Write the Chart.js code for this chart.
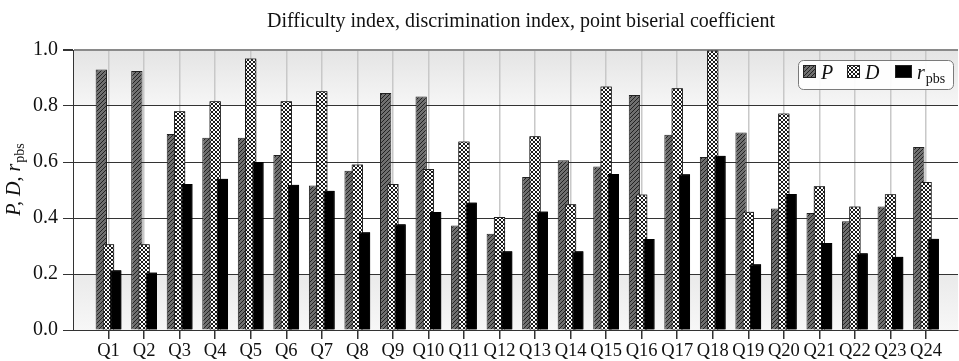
<!DOCTYPE html>
<html>
<head>
<meta charset="utf-8">
<script src="https://cdn.jsdelivr.net/npm/chart.js@4/dist/chart.umd.min.js"></script>
<style>
  body { margin: 0; background: #fff; }
  #wrap { width: 959px; height: 361px; position: relative; }
</style>
</head>
<body>
<div id="wrap"><canvas id="chart"></canvas></div>
<script>
// DATA
const questions = ['Q1','Q2','Q3','Q4','Q5','Q6','Q7','Q8','Q9','Q10','Q11','Q12',
                   'Q13','Q14','Q15','Q16','Q17','Q18','Q19','Q20','Q21','Q22','Q23','Q24'];
const difficultyP = [0.93,0.925,0.70,0.687,0.687,0.625,0.516,0.569,0.846,0.834,0.373,0.344,
                     0.546,0.606,0.584,0.839,0.697,0.618,0.705,0.434,0.418,0.388,0.441,0.654];
const discriminationD = [0.306,0.306,0.781,0.817,0.970,0.817,0.853,0.591,0.521,0.575,0.673,0.404,
                         0.692,0.449,0.870,0.484,0.863,0.998,0.422,0.773,0.513,0.441,0.485,0.529];
const pointBiserial = [0.213,0.205,0.521,0.540,0.600,0.519,0.497,0.349,0.378,0.421,0.455,0.281,
                       0.423,0.281,0.557,0.325,0.556,0.622,0.235,0.486,0.311,0.274,0.262,0.326];
const yTicks = [0, 0.2, 0.4, 0.6, 0.8, 1.0];
const chartTitle = 'Difficulty index, discrimination index, point biserial coefficient';

const serif = '"Liberation Serif", "Times New Roman", serif';

// PATTERNS
function hatchPattern(){
    let c = document.createElement('canvas');
    c.width = 4; c.height = 4;
    let g = c.getContext('2d');
    g.fillStyle = '#707070';
    g.fillRect(0, 0, 4, 4);
    g.strokeStyle = '#222';
    g.lineWidth = 1;
    g.beginPath();
    g.moveTo(-1, 5); g.lineTo(5, -1);
    g.stroke();
    return g.createPattern(c, 'repeat');
};

function crossPattern(){
    let c = document.createElement('canvas');
    c.width = 4; c.height = 4;
    let g = c.getContext('2d');
    g.fillStyle = '#ffffff';
    g.fillRect(0, 0, 4, 4);
    g.strokeStyle = '#1a1a1a';
    g.lineWidth = 1;
    g.beginPath();
    g.moveTo(-1, 5); g.lineTo(5, -1);
    g.moveTo(-1, -1); g.lineTo(5, 5);
    g.stroke();
    return g.createPattern(c, 'repeat');
};

const fillP = hatchPattern();
const fillD = crossPattern();

// PLOT BACKGROUND
const plotBackground = {
    id: 'plotBackground',
    beforeDraw(chart){
        let {ctx, chartArea: a} = chart;
        let grad = ctx.createLinearGradient(0, a.top, 0, a.bottom);
        grad.addColorStop(0, '#e4e4e4');
        grad.addColorStop(0.2, '#f6f6f6');
        grad.addColorStop(0.201, '#ffffff');
        grad.addColorStop(0.799, '#ffffff');
        grad.addColorStop(0.8, '#eaeaea');
        grad.addColorStop(1, '#f7f7f7');
        ctx.save();
        ctx.fillStyle = grad;
        ctx.fillRect(a.left, a.top, a.right - a.left, a.bottom - a.top);
        ctx.restore();
    }
};

// D over P, r over D
const redrawOrder = {
    id: 'redrawOrder',
    afterDatasetsDraw(chart){
        chart.getDatasetMeta(1).controller.draw();
        chart.getDatasetMeta(2).controller.draw();
    }
};

// TITLE, Y TITLE + LEGEND WITH SUBSCRIPT
const extras = {
    id: 'extras',
    afterDraw(chart){
        let ctx = chart.ctx;
        ctx.save();
        ctx.fillStyle = '#111';
        ctx.font = '20px ' + serif;
        ctx.textAlign = 'center';
        ctx.textBaseline = 'middle';
        ctx.fillText(chartTitle, 521, 22);
        ctx.restore();

        // y title
        ctx.save();
        ctx.translate(20, 180);
        ctx.rotate(-Math.PI / 2);
        ctx.fillStyle = '#111';
        ctx.textBaseline = 'alphabetic';
        let big = 'italic 20px ' + serif;
        let small = '14px ' + serif;
        ctx.font = big;
        let t1 = 'P, D, r';
        let w1 = ctx.measureText(t1).width;
        ctx.font = small;
        let w2 = ctx.measureText('pbs').width;
        let x0 = -(w1 + w2) / 2;
        ctx.font = big;
        ctx.textAlign = 'left';
        ctx.fillText(t1, x0, 0);
        ctx.font = small;
        ctx.fillText('pbs', x0 + w1 + 1, 4);
        ctx.restore();

        // legend box
        ctx.save();
        let bx = 798, by = 60, bw = 155, bh = 29;
        ctx.beginPath();
        ctx.roundRect(bx + 0.5, by + 0.5, bw, bh, 5);
        ctx.fillStyle = 'rgba(255,255,255,0.92)';
        ctx.fill();
        ctx.strokeStyle = '#7a7a7a';
        ctx.lineWidth = 1;
        ctx.stroke();

        let items = [
            {fill: fillP, x: 803, w: 13, label: 'P'},
            {fill: fillD, x: 847, w: 13, label: 'D'},
            {fill: '#000', x: 895, w: 17, label: 'r', sub: 'pbs'}
        ];
        items.forEach(it => {
            ctx.fillStyle = it.fill;
            ctx.fillRect(it.x, 65, it.w, 13);
            ctx.strokeStyle = '#222';
            ctx.strokeRect(it.x + 0.5, 65.5, it.w - 1, 12);
            ctx.fillStyle = '#111';
            ctx.font = 'italic 20px ' + serif;
            ctx.textAlign = 'left';
            ctx.textBaseline = 'alphabetic';
            let tx = it.x + it.w + 5;
            ctx.fillText(it.label, tx, 79);
            if (it.sub){
                let lw = ctx.measureText(it.label).width;
                ctx.font = '14px ' + serif;
                ctx.fillText(it.sub, tx + lw + 1, 83);
            };
        });
        ctx.restore();
    }
};

function toPoints(arr){
    return arr.map((v, i) => ({x: i + 1, y: v}));
};

let ctx = document.getElementById('chart').getContext('2d');
let myChart = new Chart(ctx, {
    type: 'bar',
    data: {
        datasets: [
            {label: 'P', data: toPoints(difficultyP), backgroundColor: fillP, borderColor: '#222', borderWidth: 1},
            {label: 'D', data: toPoints(discriminationD), backgroundColor: fillD, borderColor: '#222', borderWidth: 1},
            {label: 'rpbs', data: toPoints(pointBiserial), backgroundColor: '#000', borderColor: '#000', borderWidth: 1}
        ]
    },
    options: {
        responsive: true,
        maintainAspectRatio: false,
        animation: false,
        categoryPercentage: 0.61,
        barPercentage: 1.57,
        layout: {padding: {left: 0, right: 1, top: 50, bottom: 0}},
        plugins: {
            legend: {display: false},
            tooltip: {enabled: false},
            title: {display: false}
        },
        scales: {
            x: {
                type: 'linear',
                min: 0,
                max: 24.9,
                offset: false,
                afterFit: s => { s.height = 31; },
                grid: {
                    offset: false,
                    color: c => c.index === 0 ? 'rgba(0,0,0,0)' : '#c8c8c8',
                    tickColor: c => c.index === 0 ? 'rgba(0,0,0,0)' : '#333',
                    lineWidth: 1.5,
                    tickLength: 9
                },
                border: {color: '#333', width: 1},
                ticks: {
                    stepSize: 1,
                    autoSkip: false,
                    includeBounds: false,
                    maxRotation: 0,
                    padding: 1,
                    color: '#111',
                    font: {family: serif, size: 18.5},
                    callback: v => questions[v - 1] || ''
                }
            },
            y: {
                min: 0,
                max: 1,
                afterFit: s => { s.width = 73; },
                afterBuildTicks: s => { s.ticks = yTicks.map(v => ({value: v})); },
                grid: {
                    color: c => c.tick && c.tick.value === 1 ? '#8a8a8a' : '#333',
                    lineWidth: c => c.tick && c.tick.value === 1 ? 2 : 1,
                    tickColor: '#333',
                    tickLength: 10
                },
                border: {color: '#333', width: 1},
                ticks: {
                    padding: 5,
                    color: '#111',
                    font: {family: serif, size: 20},
                    callback: v => v.toFixed(1)
                }
            }
        }
    },
    plugins: [plotBackground, redrawOrder, extras]
});
</script>
</body>
</html>
